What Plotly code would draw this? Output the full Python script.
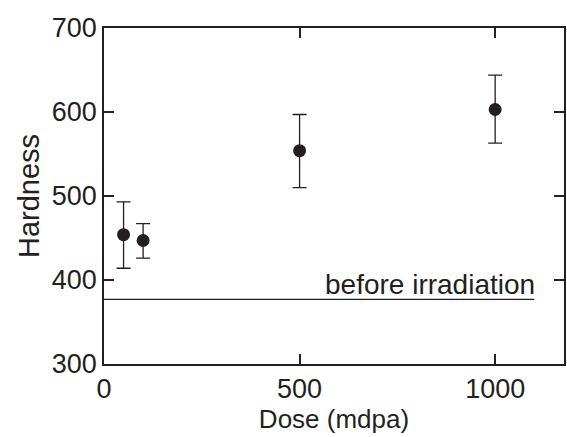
import plotly.graph_objects as go

dose = [50, 100, 500, 1000]
hardness = [454, 447, 554, 603]
err_plus = [39, 20, 43, 41]
err_minus = [40, 21, 44, 40]

baseline_x = [0, 1100]
baseline_y = [377, 377]
baseline_label = "before irradiation"

x_ticks = [0, 500, 1000]
y_ticks = [300, 400, 500, 600, 700]

FONT = "Liberation Sans, Arial, Helvetica, sans-serif"
INK = "#231f20"

fig = go.Figure()
fig.add_trace(go.Scatter(
    x=baseline_x, y=baseline_y, mode="lines",
    line=dict(color=INK, width=1.3), showlegend=False, hoverinfo="skip"))
fig.add_trace(go.Scatter(
    x=dose, y=hardness, mode="markers",
    marker=dict(color=INK, size=13),
    error_y=dict(type="data", symmetric=False, array=err_plus, arrayminus=err_minus,
                 color=INK, thickness=1.3, width=7),
    showlegend=False))

fig.add_annotation(x=baseline_x[1], y=baseline_y[1], text=baseline_label,
                   xanchor="right", yanchor="bottom", showarrow=False,
                   font=dict(family=FONT, size=28, color=INK), yshift=-3, xshift=3)

fig.update_xaxes(range=[0, 1176], tickvals=x_ticks, ticks="inside", ticklen=10,
                 tickwidth=2, tickcolor="#222222", showline=True, linecolor=INK, linewidth=1.5,
                 mirror="ticks", showgrid=False, zeroline=False,
                 tickfont=dict(family=FONT, size=27, color=INK),
                 title=dict(text="Dose (mdpa)", font=dict(family=FONT, size=26, color=INK), standoff=4))
fig.update_yaxes(range=[300, 700], tickvals=y_ticks, ticks="inside", ticklen=10,
                 tickwidth=2, tickcolor="#222222", showline=True, linecolor=INK, linewidth=1.5,
                 mirror="ticks", showgrid=False, zeroline=False,
                 tickfont=dict(family=FONT, size=27, color=INK),
                 title=dict(text="Hardness", font=dict(family=FONT, size=29, color=INK), standoff=4))

fig.update_layout(width=567, height=437, margin=dict(l=104, r=1, t=28, b=73),
                  plot_bgcolor="white", paper_bgcolor="white",
                  font=dict(family=FONT, color=INK))

fig.write_html("out.html")
